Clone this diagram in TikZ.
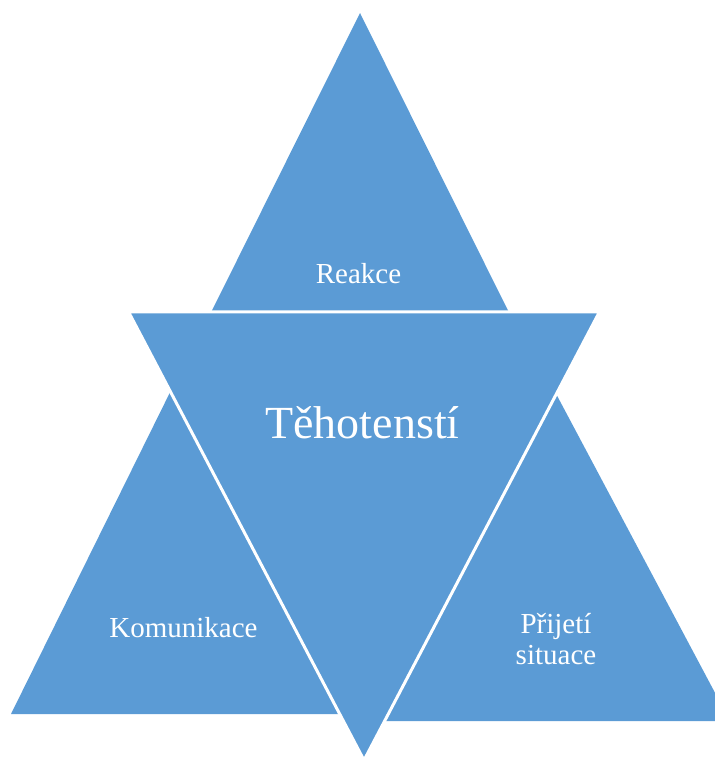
\documentclass[tikz,border=0pt]{standalone}
\usepackage{fontspec}
\setmainfont{Liberation Serif}
\definecolor{accent}{RGB}{91,155,213}
\tikzset{
  tri/.style={fill=accent, draw=none},
  centertri/.style={fill=accent, draw=white, line width=3pt, line join=miter},
  lbl/.style={text=white, inner sep=0pt, font=\fontsize{29}{31}\selectfont},
  biglbl/.style={text=white, inner sep=0pt, font=\fontsize{46}{50}\selectfont}
}
\begin{document}
\begin{tikzpicture}[x=1pt,y=-1pt]
\useasboundingbox (0,0) rectangle (715,758);
% outer triangles
\path[tri] (360,13) -- (509,312.5) -- (211,312.5) -- cycle;
\path[tri] (186,360) -- (380,714) -- (11,714) -- cycle;
\path[tri] (543.4,370) -- (730,721) -- (360,721) -- cycle;
% central inverted triangle
\path[centertri] (128.5,311.8) -- (599.5,311.8) -- (364,760.3) -- cycle;
% labels
\node[lbl, anchor=base] (reakce) at (358.5,283) {Reakce};
\node[biglbl, anchor=base] (tehotensti) at (362.5,438) {Těhotenstí};
\node[lbl, anchor=base] (komunikace) at (183.5,637) {Komunikace};
\node[lbl, anchor=south, align=center] (prijeti) at (556,665) {Přijetí\\situace};
\end{tikzpicture}
\end{document}
